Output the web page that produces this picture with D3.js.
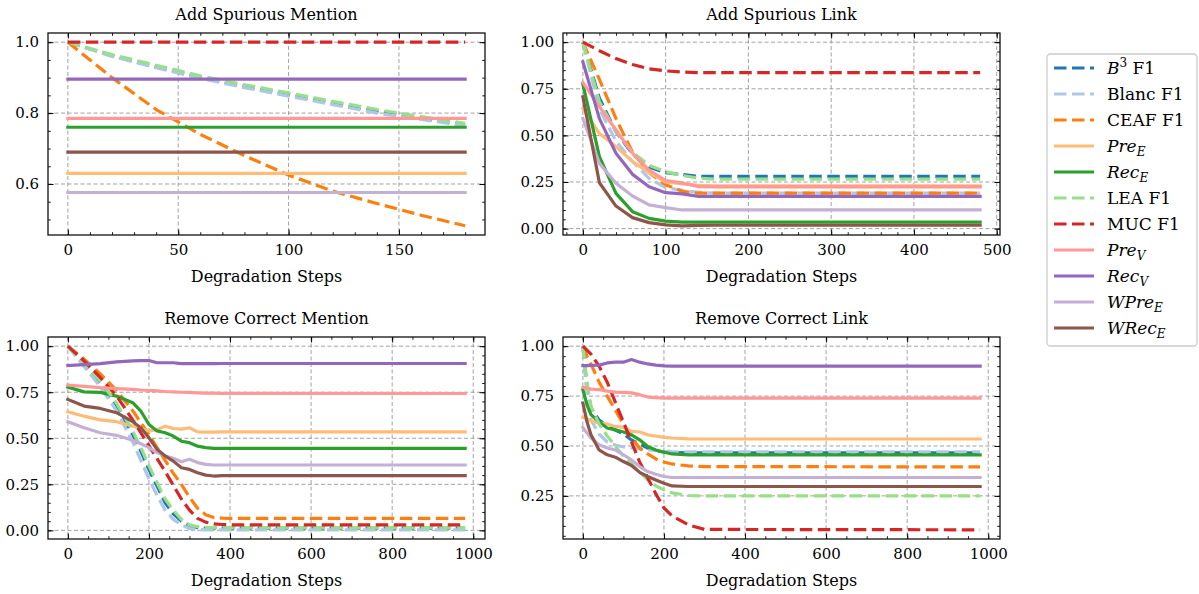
<!DOCTYPE html>
<html>
<head>
<meta charset="utf-8">
<script src="https://cdn.jsdelivr.net/npm/d3@7"></script>
<style>
  body { margin: 0; background: #fff; }
  svg { display: block; }
  text { font-family: "DejaVu Serif", serif; fill: #000; }
</style>
</head>
<body>
<svg id="chart" width="1199" height="594"></svg>
<script>
// metric order = legend order = draw order
const metricColors = ['#1f77b4', '#aec7e8', '#ff7f0e', '#ffbb78', '#2ca02c', '#98df8a', '#d62728', '#ff9896', '#9467bd', '#c5b0d5', '#8c564b'];
const metricDashed = [true, true, true, false, false, true, true, false, false, false, false];
const metricLabels = [
  [{ t: 'B', it: true }, { t: '3', sup: true }, { t: ' F1' }],
  [{ t: 'Blanc F1' }],
  [{ t: 'CEAF F1' }],
  [{ t: 'Pre', it: true }, { t: 'E', sub: true }],
  [{ t: 'Rec', it: true }, { t: 'E', sub: true }],
  [{ t: 'LEA F1' }],
  [{ t: 'MUC F1' }],
  [{ t: 'Pre', it: true }, { t: 'V', sub: true }],
  [{ t: 'Rec', it: true }, { t: 'V', sub: true }],
  [{ t: 'WPre', it: true }, { t: 'E', sub: true }],
  [{ t: 'WRec', it: true }, { t: 'E', sub: true }]
];

// Add Spurious Mention
const asmSteps = [0, 20, 40, 60, 80, 100, 120, 140, 160, 180];
const asmB3    = [1.0, 0.962, 0.930, 0.900, 0.875, 0.852, 0.828, 0.805, 0.785, 0.767];
const asmBlanc = [1.0, 0.960, 0.928, 0.898, 0.872, 0.848, 0.824, 0.800, 0.782, 0.765];
const asmCeaf  = [1.0, 0.900, 0.810, 0.740, 0.680, 0.625, 0.580, 0.545, 0.512, 0.482];
const asmPreE  = [0.63, 0.63, 0.63, 0.63, 0.63, 0.63, 0.63, 0.63, 0.63, 0.63];
const asmRecE  = [0.76, 0.76, 0.76, 0.76, 0.76, 0.76, 0.76, 0.76, 0.76, 0.76];
const asmLea   = [1.0, 0.965, 0.935, 0.905, 0.880, 0.857, 0.833, 0.810, 0.790, 0.771];
const asmMuc   = [1.0, 1.0, 1.0, 1.0, 1.0, 1.0, 1.0, 1.0, 1.0, 1.0];
const asmPreV  = [0.785, 0.785, 0.785, 0.785, 0.785, 0.785, 0.785, 0.785, 0.785, 0.785];
const asmRecV  = [0.896, 0.896, 0.896, 0.896, 0.896, 0.896, 0.896, 0.896, 0.896, 0.896];
const asmWPreE = [0.576, 0.576, 0.576, 0.576, 0.576, 0.576, 0.576, 0.576, 0.576, 0.576];
const asmWRecE = [0.69, 0.69, 0.69, 0.69, 0.69, 0.69, 0.69, 0.69, 0.69, 0.69];

// Add Spurious Link
const aslSteps = [0, 20, 40, 60, 80, 100, 120, 140, 160, 480];
const aslB3    = [1.0, 0.70, 0.52, 0.40, 0.33, 0.30, 0.29, 0.28, 0.28, 0.28];
const aslBlanc = [1.0, 0.64, 0.47, 0.36, 0.27, 0.22, 0.205, 0.195, 0.19, 0.19];
const aslCeaf  = [1.0, 0.80, 0.59, 0.41, 0.30, 0.235, 0.20, 0.19, 0.19, 0.19];
const aslPreE  = [0.645, 0.51, 0.44, 0.36, 0.30, 0.25, 0.24, 0.232, 0.23, 0.23];
const aslRecE  = [0.775, 0.386, 0.189, 0.091, 0.055, 0.04, 0.035, 0.035, 0.035, 0.035];
const aslLea   = [1.0, 0.68, 0.52, 0.41, 0.34, 0.305, 0.285, 0.27, 0.265, 0.265];
const aslMuc   = [1.0, 0.954, 0.912, 0.88, 0.857, 0.846, 0.84, 0.837, 0.837, 0.837];
const aslPreV  = [0.784, 0.654, 0.529, 0.404, 0.314, 0.258, 0.245, 0.225, 0.224, 0.224];
const aslRecV  = [0.895, 0.59, 0.404, 0.291, 0.225, 0.193, 0.186, 0.173, 0.173, 0.173];
const aslWPreE = [0.591, 0.35, 0.243, 0.175, 0.127, 0.113, 0.10, 0.10, 0.10, 0.10];
const aslWRecE = [0.707, 0.246, 0.121, 0.059, 0.032, 0.02, 0.015, 0.017, 0.018, 0.018];

// Remove Correct Mention
const rcmSteps = [0, 40, 80, 120, 160, 180, 200, 220, 240, 260, 280, 300, 320, 340, 360, 380, 400, 980];
const rcmB3    = [1.0, 0.90, 0.80, 0.68, 0.52, 0.43, 0.33, 0.24, 0.15, 0.09, 0.05, 0.025, 0.015, 0.012, 0.012, 0.012, 0.012, 0.012];
const rcmBlanc = [1.0, 0.89, 0.78, 0.65, 0.48, 0.38, 0.28, 0.19, 0.11, 0.06, 0.03, 0.01, 0.005, 0.003, 0.003, 0.003, 0.003, 0.003];
const rcmCeaf  = [1.0, 0.93, 0.85, 0.76, 0.65, 0.585, 0.52, 0.45, 0.38, 0.31, 0.25, 0.18, 0.12, 0.085, 0.07, 0.067, 0.065, 0.065];
const rcmPreE  = [0.644, 0.62, 0.60, 0.59, 0.566, 0.555, 0.54, 0.547, 0.566, 0.553, 0.55, 0.557, 0.535, 0.533, 0.533, 0.535, 0.535, 0.535];
const rcmRecE  = [0.778, 0.752, 0.749, 0.729, 0.693, 0.648, 0.575, 0.54, 0.53, 0.512, 0.484, 0.476, 0.457, 0.449, 0.445, 0.445, 0.445, 0.445];
const rcmLea   = [1.0, 0.91, 0.81, 0.69, 0.54, 0.45, 0.35, 0.26, 0.17, 0.11, 0.06, 0.03, 0.02, 0.016, 0.015, 0.015, 0.015, 0.015];
const rcmMuc   = [1.0, 0.92, 0.83, 0.73, 0.60, 0.53, 0.46, 0.39, 0.32, 0.245, 0.17, 0.11, 0.065, 0.045, 0.035, 0.032, 0.03, 0.03];
const rcmPreV  = [0.789, 0.782, 0.775, 0.77, 0.765, 0.762, 0.76, 0.757, 0.754, 0.752, 0.75, 0.749, 0.747, 0.745, 0.745, 0.744, 0.744, 0.743];
const rcmRecV  = [0.895, 0.90, 0.905, 0.915, 0.92, 0.922, 0.922, 0.91, 0.91, 0.91, 0.905, 0.905, 0.905, 0.905, 0.905, 0.906, 0.906, 0.906];
const rcmWPreE = [0.59, 0.557, 0.53, 0.516, 0.489, 0.47, 0.449, 0.422, 0.404, 0.391, 0.373, 0.386, 0.368, 0.358, 0.355, 0.355, 0.355, 0.355];
const rcmWRecE = [0.711, 0.675, 0.662, 0.639, 0.59, 0.557, 0.503, 0.44, 0.404, 0.376, 0.34, 0.331, 0.313, 0.30, 0.295, 0.297, 0.297, 0.297];

// Remove Correct Link
const rclSteps = [0, 10, 20, 40, 60, 80, 100, 120, 140, 160, 180, 200, 220, 260, 300, 980];
const rclB3    = [1.0, 0.80, 0.69, 0.63, 0.60, 0.58, 0.56, 0.53, 0.51, 0.49, 0.475, 0.47, 0.467, 0.466, 0.466, 0.466];
const rclBlanc = [1.0, 0.75, 0.63, 0.56, 0.52, 0.505, 0.495, 0.49, 0.485, 0.48, 0.477, 0.475, 0.472, 0.47, 0.47, 0.47];
const rclCeaf  = [1.0, 0.95, 0.91, 0.82, 0.75, 0.68, 0.61, 0.54, 0.49, 0.46, 0.435, 0.42, 0.41, 0.40, 0.397, 0.395];
const rclPreE  = [0.643, 0.635, 0.626, 0.615, 0.61, 0.598, 0.593, 0.573, 0.57, 0.556, 0.55, 0.543, 0.54, 0.536, 0.535, 0.535];
const rclRecE  = [0.782, 0.707, 0.657, 0.62, 0.59, 0.581, 0.57, 0.556, 0.531, 0.497, 0.48, 0.469, 0.46, 0.455, 0.455, 0.455];
const rclLea   = [1.0, 0.82, 0.70, 0.61, 0.55, 0.50, 0.45, 0.41, 0.37, 0.33, 0.30, 0.28, 0.265, 0.252, 0.25, 0.25];
const rclMuc   = [1.0, 0.98, 0.96, 0.90, 0.82, 0.72, 0.62, 0.52, 0.42, 0.34, 0.26, 0.19, 0.15, 0.105, 0.082, 0.08];
const rclPreV  = [0.794, 0.79, 0.785, 0.782, 0.775, 0.77, 0.769, 0.766, 0.757, 0.745, 0.742, 0.74, 0.74, 0.74, 0.74, 0.74];
const rclRecV  = [0.903, 0.903, 0.904, 0.905, 0.916, 0.92, 0.92, 0.933, 0.92, 0.911, 0.905, 0.901, 0.90, 0.90, 0.90, 0.90];
const rclWPreE = [0.593, 0.565, 0.54, 0.506, 0.49, 0.48, 0.456, 0.43, 0.397, 0.372, 0.358, 0.347, 0.342, 0.342, 0.342, 0.342];
const rclWRecE = [0.715, 0.623, 0.556, 0.48, 0.456, 0.444, 0.422, 0.402, 0.368, 0.347, 0.33, 0.313, 0.30, 0.297, 0.297, 0.297];

const panels = [
  { title: 'Add Spurious Mention', steps: asmSteps,
    values: [asmB3, asmBlanc, asmCeaf, asmPreE, asmRecE, asmLea, asmMuc, asmPreV, asmRecV, asmWPreE, asmWRecE],
    box: { left: 48, right: 485, top: 33, bottom: 235 },
    xMajor: 50, xMinor: 10, yMajor: 0.2, yMinor: 0.05, yFmt: '.1f' },
  { title: 'Add Spurious Link', steps: aslSteps,
    values: [aslB3, aslBlanc, aslCeaf, aslPreE, aslRecE, aslLea, aslMuc, aslPreV, aslRecV, aslWPreE, aslWRecE],
    box: { left: 563, right: 1000, top: 33, bottom: 235 },
    xMajor: 100, xMinor: 20, yMajor: 0.25, yMinor: 0.05, yFmt: '.2f' },
  { title: 'Remove Correct Mention', steps: rcmSteps,
    values: [rcmB3, rcmBlanc, rcmCeaf, rcmPreE, rcmRecE, rcmLea, rcmMuc, rcmPreV, rcmRecV, rcmWPreE, rcmWRecE],
    box: { left: 48, right: 485, top: 337, bottom: 539 },
    xMajor: 200, xMinor: 50, yMajor: 0.25, yMinor: 0.05, yFmt: '.2f' },
  { title: 'Remove Correct Link', steps: rclSteps,
    values: [rclB3, rclBlanc, rclCeaf, rclPreE, rclRecE, rclLea, rclMuc, rclPreV, rclRecV, rclWPreE, rclWRecE],
    box: { left: 563, right: 1000, top: 337, bottom: 539 },
    xMajor: 200, xMinor: 50, yMajor: 0.25, yMinor: 0.05, yFmt: '.2f' }
];

const svg = d3.select('#chart');
const DASH = '12.5,5.5';

function ticksIn(domain, step) {
  const out = [];
  for (let k = Math.ceil(domain[0] / step - 1e-9); k * step <= domain[1] + 1e-9; k++) {
    out.push(+(k * step).toFixed(6));
  }
  return out;
}

// matplotlib style 5% margin around the data
function padded(ext) {
  const pad = (ext[1] - ext[0]) * 0.05;
  return [ext[0] - pad, ext[1] + pad];
}

function drawPanel(p) {
  const b = p.box;
  const x = d3.scaleLinear().domain(padded(d3.extent(p.steps))).range([b.left, b.right]);
  const y = d3.scaleLinear().domain(padded(d3.extent(p.values.flat()))).range([b.bottom, b.top]);
  const g = svg.append('g');

  const xMaj = ticksIn(x.domain(), p.xMajor);
  const xMin = ticksIn(x.domain(), p.xMinor);
  const yMaj = ticksIn(y.domain(), p.yMajor);
  const yMin = ticksIn(y.domain(), p.yMinor);

  // Grid
  g.append('g').selectAll('line')
    .data(xMaj).enter().append('line')
    .attr('x1', d => x(d)).attr('x2', d => x(d))
    .attr('y1', b.top).attr('y2', b.bottom)
    .attr('stroke', '#8a8a8a').attr('stroke-width', 0.8).attr('stroke-dasharray', '4,2.5');
  g.append('g').selectAll('line')
    .data(yMaj).enter().append('line')
    .attr('x1', b.left).attr('x2', b.right)
    .attr('y1', d => y(d)).attr('y2', d => y(d))
    .attr('stroke', '#8a8a8a').attr('stroke-width', 0.8).attr('stroke-dasharray', '4,2.5');

  // Lines
  const line = d3.line()
    .x((d, i) => x(p.steps[i]))
    .y(d => y(d));

  p.values.forEach((vals, m) => {
    g.append('path')
      .datum(vals)
      .attr('d', line)
      .attr('fill', 'none')
      .attr('stroke', metricColors[m])
      .attr('stroke-width', 3.2)
      .attr('stroke-linejoin', 'round')
      .attr('stroke-linecap', metricDashed[m] ? 'butt' : 'square')
      .attr('stroke-dasharray', metricDashed[m] ? DASH : null);
  });

  // Ticks, all four sides, pointing in
  const sides = [
    [d3.axisBottom, x, `translate(0,${b.bottom})`, xMaj, xMin, true],
    [d3.axisTop, x, `translate(0,${b.top})`, xMaj, xMin, false],
    [d3.axisLeft, y, `translate(${b.left},0)`, yMaj, yMin, true],
    [d3.axisRight, y, `translate(${b.right},0)`, yMaj, yMin, false]
  ];
  sides.forEach(([axisFn, scale, tr, maj, min, labelled], s) => {
    g.append('g').attr('transform', tr)
      .call(axisFn(scale).tickValues(min).tickSize(-2.8).tickFormat(''))
      .call(a => a.select('.domain').remove())
      .selectAll('line').attr('stroke-width', 0.9);

    const fmt = s < 2 ? d3.format('d') : d3.format(p.yFmt);
    const ax = g.append('g').attr('transform', tr)
      .call(axisFn(scale).tickValues(maj).tickSize(-5.5).tickPadding(9)
        .tickFormat(labelled ? fmt : ''))
      .call(a => a.select('.domain').remove());
    ax.selectAll('line').attr('stroke-width', 1);
    ax.attr('font-family', null).attr('font-size', null);
    ax.selectAll('text').style('font-size', '15px');
  });

  // Frame
  g.append('rect')
    .attr('x', b.left).attr('y', b.top)
    .attr('width', b.right - b.left).attr('height', b.bottom - b.top)
    .attr('fill', 'none').attr('stroke', '#111').attr('stroke-width', 1.3);

  // Title
  g.append('text')
    .attr('x', (b.left + b.right) / 2)
    .attr('y', b.top - 13)
    .attr('text-anchor', 'middle')
    .style('font-size', '16px')
    .text(p.title);

  // X axis label
  g.append('text')
    .attr('x', (b.left + b.right) / 2)
    .attr('y', b.bottom + 47)
    .attr('text-anchor', 'middle')
    .style('font-size', '16px')
    .text('Degradation Steps');
}

panels.forEach(drawPanel);

// Legend
const legend = svg.append('g').attr('transform', 'translate(1047,54)');
legend.append('rect')
  .attr('x', 0).attr('y', 0).attr('width', 150).attr('height', 292)
  .attr('rx', 3.5)
  .attr('fill', '#fff').attr('stroke', '#cccccc').attr('stroke-width', 1.3);

metricLabels.forEach((parts, i) => {
  const cy = 14 + i * 26;
  legend.append('line')
    .attr('x1', 7).attr('x2', 47)
    .attr('y1', cy).attr('y2', cy)
    .attr('stroke', metricColors[i])
    .attr('stroke-width', 3)
    .attr('stroke-dasharray', metricDashed[i] ? DASH : null);

  const t = legend.append('text')
    .attr('x', 60).attr('y', cy + 6)
    .style('font-size', '17px');
  parts.forEach((pt, k) => {
    const ts = t.append('tspan').text(pt.t);
    if (pt.it) ts.style('font-style', 'italic');
    if (pt.sup) ts.style('font-size', '12px').attr('dy', -7);
    if (pt.sub) ts.style('font-size', '12px').style('font-style', 'italic').attr('dy', 4);
    // back to the baseline after a superscript
    if (k > 0 && parts[k - 1].sup) ts.attr('dy', 7);
  });
});
</script>
</body>
</html>
